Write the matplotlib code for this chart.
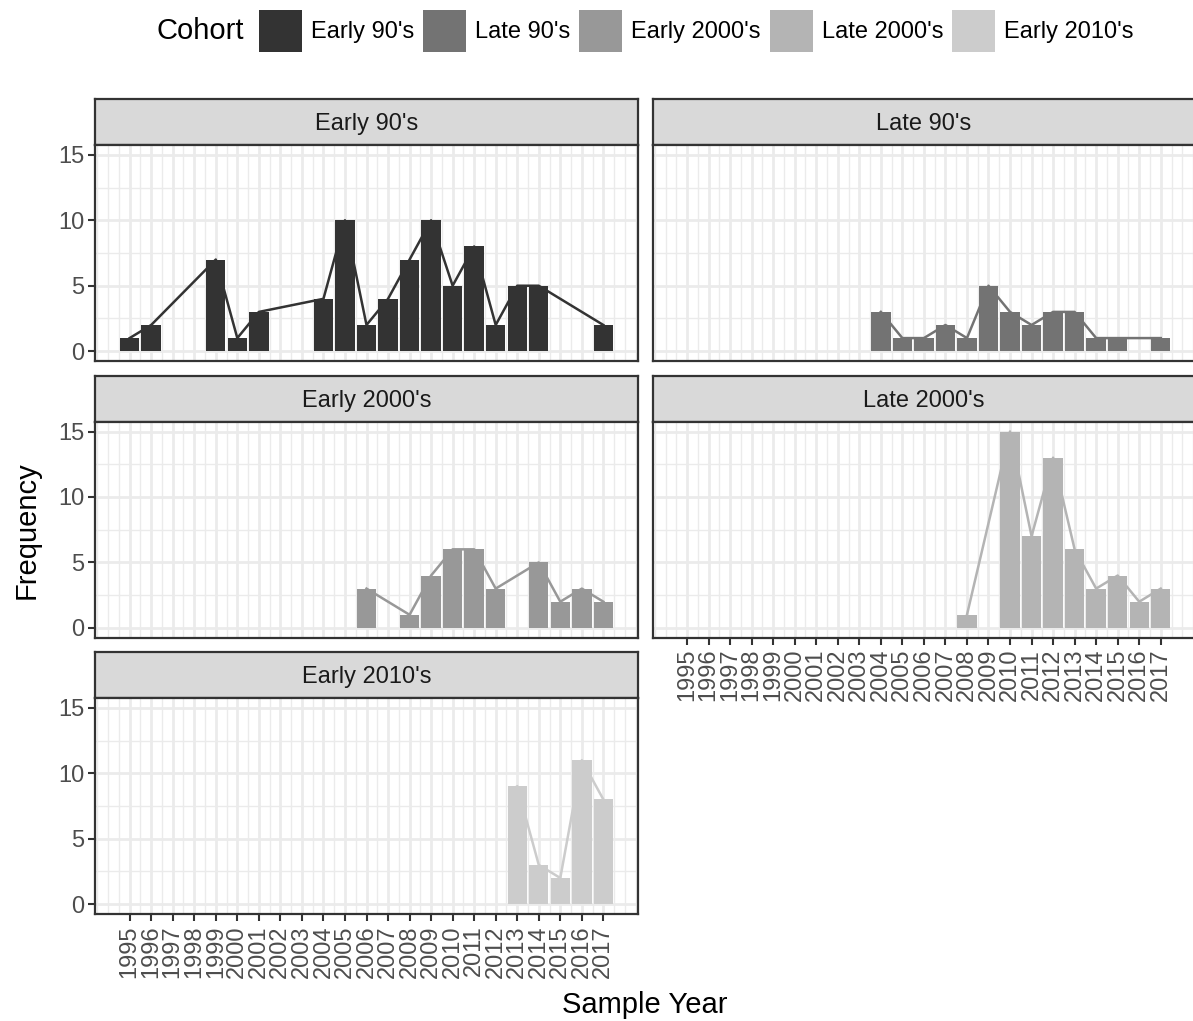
import matplotlib.pyplot as plt
from matplotlib.patches import Patch
from matplotlib.ticker import MultipleLocator

plt.rcParams['font.family'] = ['Liberation Sans', 'DejaVu Sans']

years = list(range(1995, 2018))

cohorts = ["Early 90's", "Late 90's", "Early 2000's", "Late 2000's", "Early 2010's"]
cohort_colors = ["#333333", "#737373", "#989898", "#B4B4B4", "#CCCCCC"]

early_90s_years = [1995, 1996, 1999, 2000, 2001, 2004, 2005, 2006, 2007, 2008,
                   2009, 2010, 2011, 2012, 2013, 2014, 2017]
early_90s_freq = [1, 2, 7, 1, 3, 4, 10, 2, 4, 7, 10, 5, 8, 2, 5, 5, 2]

late_90s_years = [2004, 2005, 2006, 2007, 2008, 2009, 2010, 2011, 2012, 2013,
                  2014, 2015, 2017]
late_90s_freq = [3, 1, 1, 2, 1, 5, 3, 2, 3, 3, 1, 1, 1]

early_2000s_years = [2006, 2008, 2009, 2010, 2011, 2012, 2014, 2015, 2016, 2017]
early_2000s_freq = [3, 1, 4, 6, 6, 3, 5, 2, 3, 2]

late_2000s_years = [2008, 2010, 2011, 2012, 2013, 2014, 2015, 2016, 2017]
late_2000s_freq = [1, 15, 7, 13, 6, 3, 4, 2, 3]

early_2010s_years = [2013, 2014, 2015, 2016, 2017]
early_2010s_freq = [9, 3, 2, 11, 8]

series = [
    (early_90s_years, early_90s_freq),
    (late_90s_years, late_90s_freq),
    (early_2000s_years, early_2000s_freq),
    (late_2000s_years, late_2000s_freq),
    (early_2010s_years, early_2010s_freq),
]

W, H = 1193, 1021
fig = plt.figure(figsize=(W / 100, H / 100), dpi=100)


def box(left, top, width, height):
    # pixel box (from top-left) -> figure fraction rect
    return [left / W, 1 - (top + height) / H, width / W, height / H]


col_left = [95.3, 652.7]
strip_top = [99.3, 376.0, 652.3]
strip_h = 45.7
panel_w = 542.4
panel_h = 216.0
border = "#333333"

for i, (cohort, color, (xs, ys)) in enumerate(zip(cohorts, cohort_colors, series)):
    row, col = divmod(i, 2)
    left = col_left[col]
    top = strip_top[row]

    # facet strip
    sax = fig.add_axes(box(left, top, panel_w, strip_h))
    sax.set_facecolor("#D9D9D9")
    sax.set_xticks([])
    sax.set_yticks([])
    for sp in sax.spines.values():
        sp.set_color(border)
        sp.set_linewidth(1.6)
    sax.text(0.5, 0.45, cohort, ha="center", va="center", fontsize=17,
             color="#1A1A1A", transform=sax.transAxes)

    # panel
    ax = fig.add_axes(box(left, top + strip_h, panel_w, panel_h))
    ax.bar(xs, ys, width=0.9, color=color, zorder=2)
    ax.plot(xs, ys, color=color, linewidth=1.8, zorder=3)

    ax.set_xlim(1993.405, 2018.595)
    ax.set_ylim(-0.75, 15.75)
    ax.set_xticks(years)
    ax.set_xticklabels([str(y) for y in years], rotation=90)
    ax.set_yticks([0, 5, 10, 15])
    ax.xaxis.set_minor_locator(MultipleLocator(0.5))
    ax.yaxis.set_minor_locator(MultipleLocator(2.5))

    ax.set_axisbelow(True)
    ax.grid(True, which="major", color="#EBEBEB", linewidth=2.0)
    ax.grid(True, which="minor", color="#EBEBEB", linewidth=1.0)

    ax.tick_params(which="major", length=5, width=1.5, color=border,
                   labelsize=17, labelcolor="#4D4D4D", pad=3)
    ax.tick_params(which="minor", length=0)
    for sp in ax.spines.values():
        sp.set_color(border)
        sp.set_linewidth(1.6)

    # axes only on outer panels, as in a wrapped facet grid
    if col == 1:
        ax.tick_params(axis="y", left=False, labelleft=False)
    if i not in (3, 4):
        ax.tick_params(axis="x", bottom=False, labelbottom=False)

fig.text(27 / W, 1 - 530 / H, "Frequency", rotation=90, ha="center",
         va="center", fontsize=21)
fig.text(645 / W, 1 - 1005 / H, "Sample Year", ha="center", va="center",
         fontsize=21)

# legend across the top
handles = [Patch(facecolor=c, edgecolor="none") for c in cohort_colors]
fig.text(157 / W, 1 - 31 / H, "Cohort", ha="left", va="center", fontsize=21)
fig.legend(handles, cohorts, loc="center left",
           bbox_to_anchor=(259 / W, 1 - 31 / H), ncol=5, frameon=False,
           fontsize=17, handlelength=1.82, handleheight=2.36,
           handletextpad=0.38, columnspacing=0.38,
           borderpad=0, borderaxespad=0)

fig.savefig("out.png", dpi=100)
